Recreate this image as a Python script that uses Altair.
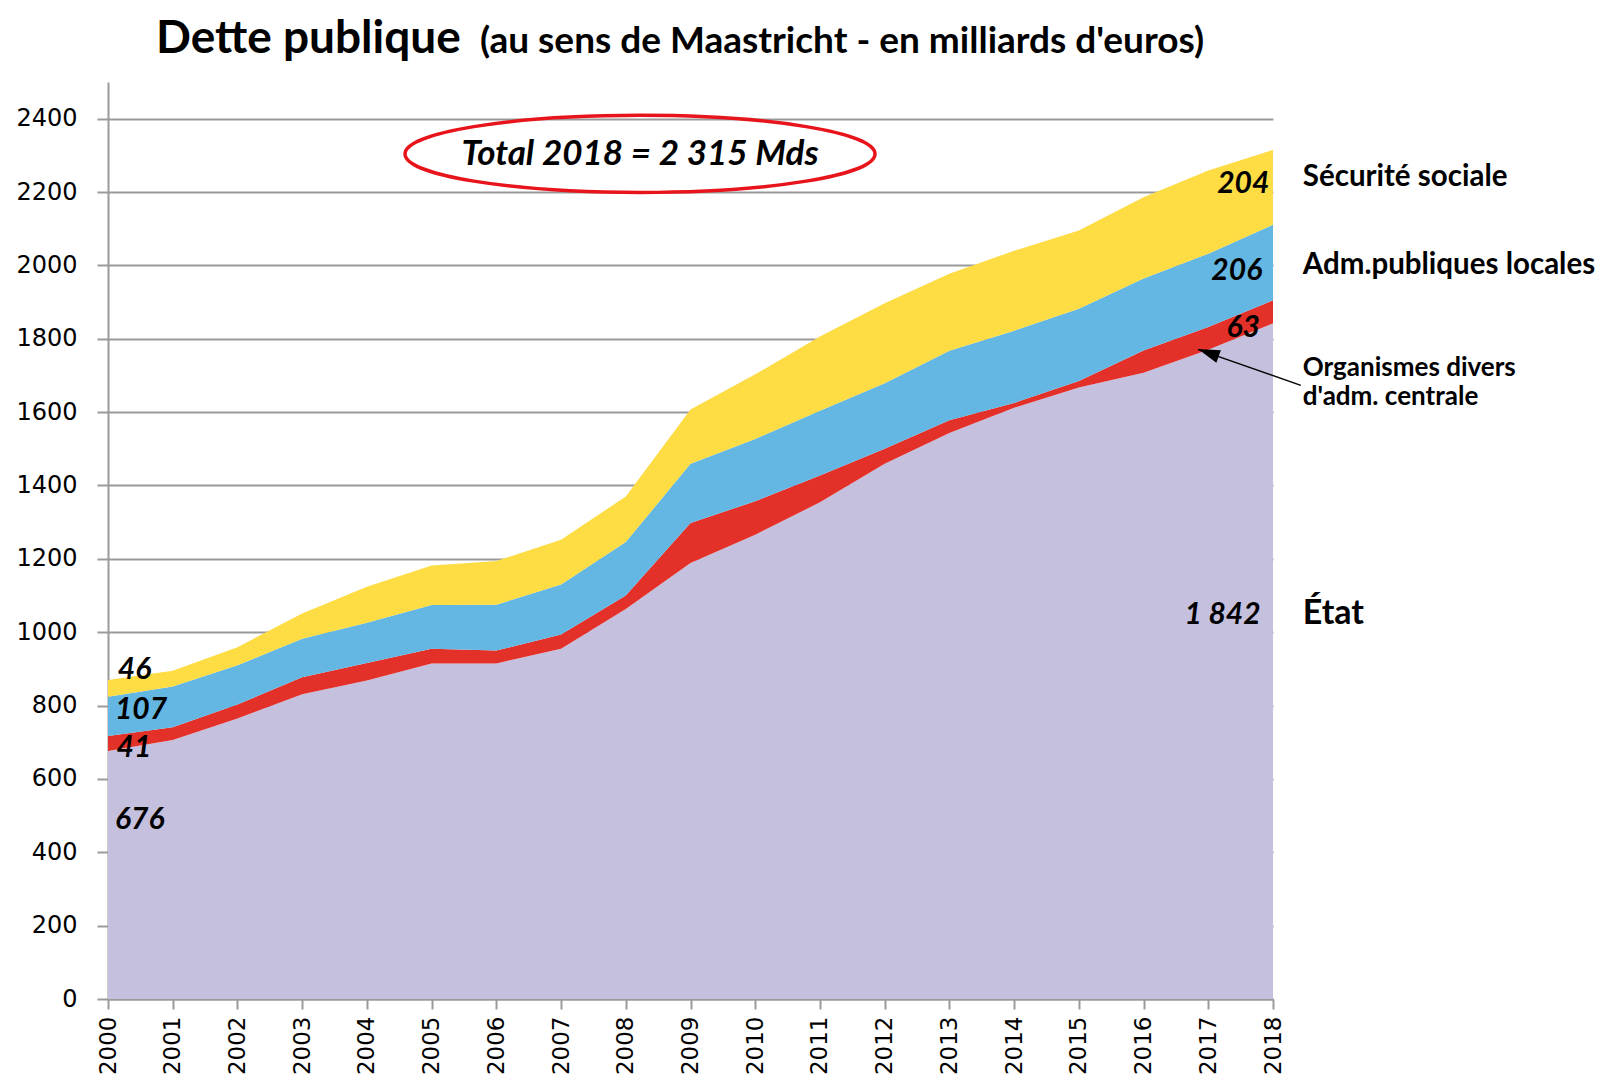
import altair as alt
import pandas as pd

# ---- data (milliards d'euros) ----
years = list(range(2000, 2019))
etat = [676, 706, 765, 831, 868, 915, 915, 955, 1063, 1189, 1266, 1354, 1459, 1543, 1612, 1667, 1707, 1770, 1842]
odac = [41, 35, 38, 46, 48, 40, 35, 39, 37, 109, 91, 73, 41, 35, 13, 18, 61, 62, 63]
apul = [107, 111, 107, 105, 110, 119, 125, 136, 146, 161, 170, 177, 179, 189, 197, 197, 196, 200, 206]
asso = [46, 43, 49, 69, 98, 108, 119, 122, 124, 148, 176, 202, 218, 210, 218, 213, 222, 227, 204]

series_names = ["État", "Organismes divers d'adm. centrale", "Adm.publiques locales", "Sécurité sociale"]
series_colors = ["#C5C0DE", "#E33028", "#63B7E2", "#FEDC44"]
y_ticks = list(range(0, 2401, 200))

rows = []
for k, (name, vals) in enumerate(zip(series_names, [etat, odac, apul, asso])):
    for yr, v in zip(years, vals):
        rows.append({"annee": yr, "valeur": v, "secteur": name, "ordre": k})
df = pd.DataFrame(rows)

# annotations
val_labels = pd.DataFrame({
    "annee": [2000.41, 2000.51, 2000.40, 2000.49, 2017.54, 2017.44, 2017.54, 2017.22],
    "valeur": [896, 789, 683, 489, 2221, 1984, 1829, 1048],
    "txt": ["46", "107", "41", "676", "204", "206", "63", "1 842"],
})
side_labels = pd.DataFrame({
    "annee": [2018.46, 2018.46],
    "valeur": [2240, 2002],
    "txt": ["Sécurité sociale", "Adm.publiques locales"],
})
odac_labels = pd.DataFrame({
    "annee": [2018.46, 2018.46],
    "valeur": [1719, 1640],
    "txt": ["Organismes divers", "d'adm. centrale"],
})
etat_label = pd.DataFrame({"annee": [2018.46], "valeur": [1049], "txt": ["État"]})
total_box = pd.DataFrame({"annee": [2008.22], "valeur": [2304], "txt": ["Total 2018 = 2 315 Mds"]})
arrow_line = pd.DataFrame({"annee": [2018.43], "valeur": [1673], "annee2": [2016.84], "valeur2": [1771]})
arrow_head = pd.DataFrame({"annee": [2017.0], "valeur": [1762]})

xs = alt.Scale(domain=[2000, 2018], nice=False, zero=False)
ys = alt.Scale(domain=[0, 2500], nice=False)

base_font = "Lato"
axis_font = "DejaVu Sans"
grey = "#9a9a9a"

areas = alt.Chart(df).mark_area(interpolate="linear", opacity=1).encode(
    x=alt.X("annee:Q", scale=xs, axis=alt.Axis(
        values=years, format="d", labelAngle=270, grid=False, title=None,
        labelFont=axis_font, labelFontSize=23, labelColor="black", labelPadding=7,
        tickSize=10, tickWidth=2, tickColor=grey, domainColor=grey, domainWidth=2)),
    y=alt.Y("valeur:Q", stack="zero", scale=ys, axis=alt.Axis(
        values=y_ticks, format="d", grid=True, gridColor=grey, gridWidth=2, title=None,
        labelFont=axis_font, labelFontSize=24, labelColor="black", labelPadding=20,
        tickSize=11, tickWidth=2, tickColor=grey, domainColor=grey, domainWidth=2)),
    color=alt.Color("secteur:N", scale=alt.Scale(domain=series_names, range=series_colors), legend=None),
    order=alt.Order("ordre:Q", sort="ascending"),
)

vals = alt.Chart(val_labels).mark_text(
    font=base_font, fontSize=30, fontWeight="bold", fontStyle="italic", color="black",
    align="center", baseline="middle",
).encode(x=alt.X("annee:Q", scale=xs), y=alt.Y("valeur:Q", scale=ys), text="txt:N")

sides = alt.Chart(side_labels).mark_text(
    font=base_font, fontSize=29.5, fontWeight="bold", color="black",
    align="left", baseline="middle",
).encode(x=alt.X("annee:Q", scale=xs), y=alt.Y("valeur:Q", scale=ys), text="txt:N")

odac_txt = alt.Chart(odac_labels).mark_text(
    font=base_font, fontSize=26, fontWeight="bold", color="black",
    align="left", baseline="middle",
).encode(x=alt.X("annee:Q", scale=xs), y=alt.Y("valeur:Q", scale=ys), text="txt:N")

etat_txt = alt.Chart(etat_label).mark_text(
    font=base_font, fontSize=34, fontWeight="bold", color="black",
    align="left", baseline="middle",
).encode(x=alt.X("annee:Q", scale=xs), y=alt.Y("valeur:Q", scale=ys), text="txt:N")

ellipse_path = ("M -1 0 C -1 -0.0906 -0.552 -0.164 0 -0.164 C 0.552 -0.164 1 -0.0906 1 0 "
                "C 1 0.0906 0.552 0.164 0 0.164 C -0.552 0.164 -1 0.0906 -1 0 Z")
ellipse = alt.Chart(total_box).mark_point(
    shape=ellipse_path, size=470 * 470, filled=False, stroke="#E8141B", strokeWidth=3.5, opacity=1,
).encode(x=alt.X("annee:Q", scale=xs), y=alt.Y("valeur:Q", scale=ys))

total_txt = alt.Chart(total_box).mark_text(
    font=base_font, fontSize=35, fontWeight="bold", fontStyle="italic", color="black",
    align="center", baseline="middle",
).encode(x=alt.X("annee:Q", scale=xs), y=alt.Y("valeur:Q", scale=ys), text="txt:N")

arrow = alt.Chart(arrow_line).mark_rule(color="black", strokeWidth=1.5).encode(
    x=alt.X("annee:Q", scale=xs), y=alt.Y("valeur:Q", scale=ys),
    x2="annee2:Q", y2="valeur2:Q",
)
head = alt.Chart(arrow_head).mark_point(
    shape="M 0 -1 L 0.6 1 L -0.6 1 Z", size=484, filled=True, color="black", opacity=1, angle=290,
).encode(x=alt.X("annee:Q", scale=xs), y=alt.Y("valeur:Q", scale=ys))

title1 = alt.Chart(total_box).mark_text(
    font=base_font, fontSize=46, fontWeight="bold", color="black", align="left", baseline="alphabetic",
).encode(x=alt.value(48), y=alt.value(-29), text=alt.value("Dette publique"))
title2 = alt.Chart(total_box).mark_text(
    font=base_font, fontSize=37, fontWeight="bold", color="black", align="left", baseline="alphabetic",
).encode(x=alt.value(372), y=alt.value(-29), text=alt.value("(au sens de Maastricht - en milliards d'euros)"))

chart = alt.layer(
    areas, vals, sides, odac_txt, etat_txt, ellipse, total_txt, arrow, head, title1, title2
).properties(
    width=1165, height=917,
    padding={"left": 100, "top": 74, "right": 330, "bottom": 80},
    autosize=alt.AutoSizeParams(type="none"),
    background="white",
).configure_view(stroke=None)

chart.save("out.html", embed_options={"renderer": "svg", "actions": False})
